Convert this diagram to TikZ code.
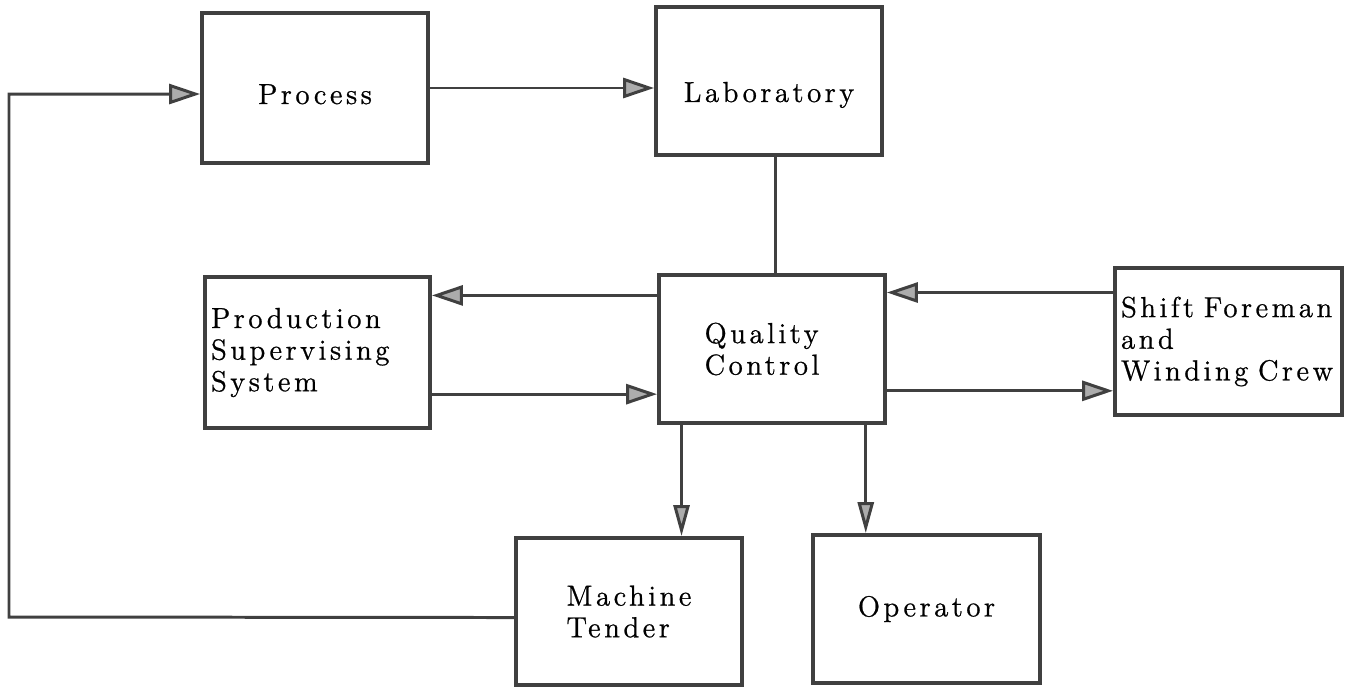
\documentclass[tikz,border=0pt]{standalone}
\usepackage{fontspec}
\usetikzlibrary{arrows.meta}
\newfontfamily\boxfont{lmroman12-regular}[Extension=.otf, LetterSpace=12, FakeBold=0.8]
\definecolor{ink}{HTML}{404040}
\tikzset{
	blk/.style={
		draw=ink,
		line width=2.2pt,
		rectangle,
		inner sep=0.12cm,
		text=black,
		font=\boxfont\fontsize{16.5}{18}\selectfont
	},
	flow/.style={
		draw=ink,
		line width=1.7pt,
		-{Triangle[length=0.62cm, width=0.4cm, fill=gray!65]}
	},
	drop/.style={
		flow,
		-{Triangle[length=0.62cm, width=0.32cm, fill=gray!65]}
	}
}

\begin{document}
\begin{tikzpicture}[x=0.02cm, y=-0.02cm]
\useasboundingbox (0,0) rectangle (1351,690);

\node[blk, minimum width=4.52cm, minimum height=3cm, text height=0.64cm, text depth=0pt] (proc) at (315,88) {Process};
\node[blk, minimum width=4.52cm, minimum height=2.96cm, text height=0.84cm, text depth=0pt] (lab) at (769,81) {Laboratory};
\node[blk, minimum width=4.52cm, minimum height=2.96cm, align=left] (qc) at (772,349) {Quality\\Control\hspace*{0.4cm}};
\node[blk, minimum width=4.5cm, minimum height=3.02cm, text width=4.26cm, align=left] (pss) at (317.5,352.5) {Production\\Supervising\\System};
\node[blk, minimum width=4.54cm, minimum height=2.94cm, text width=4.3cm, align=left] (sfw) at (1228.5,341.5) {Shift Foreman\\and\\Winding Crew};
\node[blk, minimum width=4.52cm, minimum height=2.94cm, align=left] (mt) at (629,611.5) {Machine\\Tender};
\node[blk, minimum width=4.54cm, minimum height=2.96cm] (op) at (926.5,609) {Operator};

\coordinate (ret) at (9,617);

\draw[flow] (proc.east) -- (proc.east -| lab.west);
\draw[draw=ink, line width=1.7pt] (lab.-85.4) -- (lab.-85.4 |- qc.north);
\draw[flow] (qc.155.3) -- (qc.155.3 -| pss.east);
\draw[flow] (pss.-20.7) -- (pss.-20.7 -| qc.west);
\draw[flow] (sfw.157.3) -- (sfw.157.3 -| qc.east);
\draw[flow] (qc.-20.4) -- (qc.-20.4 -| sfw.west);
\draw[drop] (qc.-140.6) -- (qc.-140.6 |- mt.north);
\draw[drop] (qc.-39.1) -- (qc.-39.1 |- op.north);
\draw[flow] (mt.-177.2) -- (ret) |- (proc.-177.5);
\end{tikzpicture}
\end{document}
